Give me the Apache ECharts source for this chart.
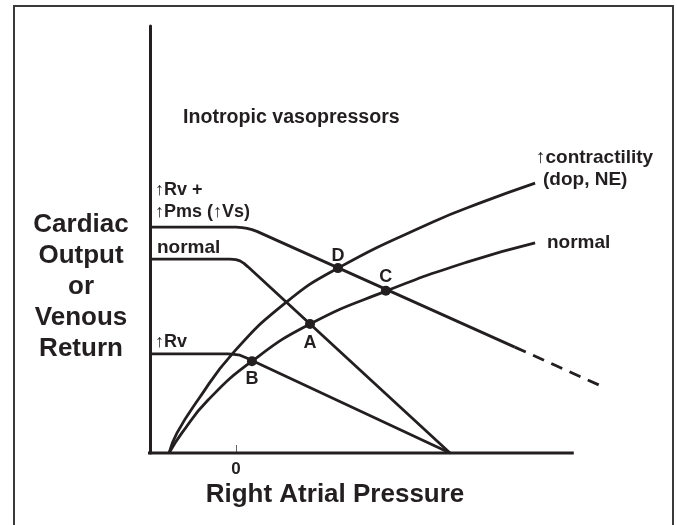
<!DOCTYPE html>
<html>
<head>
<meta charset="utf-8">
<script src="https://cdn.jsdelivr.net/npm/echarts@6/dist/echarts.min.js"></script>
<style>
html,body{margin:0;padding:0;background:#fff;}
#chart{width:677px;height:525px;}
</style>
</head>
<body>
<div id="chart"></div>
<script>
// Cardiac function curves (x = right atrial pressure, y = cardiac output)
const cardiacNormal = [[-2.18,0],[-1.76,0.47],[-0.91,1.24],[0.52,2.15],[2.41,3.02],[4.88,3.79],[7.52,4.47],[9.74,4.92]];
const cardiacContractility = [[-2.18,0],[-1.92,0.47],[-1.24,1.24],[-0.10,2.34],[1.60,3.51],[3.32,4.33],[6.41,5.41],[8.04,5.88],[9.74,6.32]];
// Venous return curves
const vrNormal = [[-2.8,4.54],[-0.20,4.54],[0,4.53],[0.13,4.50],[0.26,4.44],[0.39,4.36],[6.97,0]];
const vrRv = [[-2.8,2.32],[-0.26,2.32],[-0.07,2.31],[0.13,2.29],[0.33,2.23],[6.97,0]];
const vrRvPms = [[-2.8,5.29],[0,5.29],[0.20,5.28],[0.36,5.26],[0.52,5.23],[0.68,5.19],[9.08,2.48]];
const vrRvPmsDashed = [[9.08,2.48],[11.95,1.55]];
// Equilibrium points
const pointNames = ['A','B','C','D'];
const pointValues = [[2.41,3.02],[0.52,2.15],[4.88,3.80],[3.32,4.33]];
// Axis extents (x axis line drawn from xLineStart to xLineEnd)
const xLineStart = -2.87;
const xLineEnd = 11.0;
const xTickValues = [0];

const INK = '#231f20';
const FONT = '"Liberation Sans", Arial, Helvetica, sans-serif';
const chart = echarts.init(document.getElementById('chart'), null, {renderer:'canvas'});

const lineBase = (data, extra) => Object.assign({
  type:'line', data, symbol:'none', silent:true, z:3, clip:false,
  lineStyle:{color:INK, width:2.8}
}, extra || {});

const labelPos = {A:'bottom', B:'bottom', C:'top', D:'top'};
const labelDist = {A:5, B:4, C:0, D:-2};

const txt = (text, x, y, size, align, vAlign, extra) => ({
  type:'text', x, y, z:10, silent:true,
  style:Object.assign({text, fill:INK, font:'bold ' + size + 'px ' + FONT,
    textAlign:align || 'left', textVerticalAlign:vAlign || 'middle'}, extra || {})
});

chart.setOption({
  animation:false,
  backgroundColor:'#fff',
  grid:{left:150, right:72.5, top:26, bottom:72, containLabel:false},
  xAxis:{
    type:'value', min:-2.8, max:12,
    axisLine:{show:false},
    axisTick:{show:true, inside:true, length:8, customValues:xTickValues, lineStyle:{color:'#666', width:1}},
    axisLabel:{show:true, customValues:xTickValues, margin:8, color:INK, fontSize:17, fontWeight:'bold', fontFamily:FONT},
    splitLine:{show:false}
  },
  yAxis:{
    type:'value', min:0, max:10,
    axisLine:{show:true, onZero:false, lineStyle:{color:INK, width:3}},
    axisTick:{show:false}, axisLabel:{show:false}, splitLine:{show:false}
  },
  series:[
    lineBase([[xLineStart,0],[xLineEnd,0]], {lineStyle:{color:INK, width:3}, z:4}),
    lineBase(cardiacNormal, {smooth:0.5}),
    lineBase(cardiacContractility, {smooth:0.5}),
    lineBase(vrNormal),
    lineBase(vrRv),
    lineBase(vrRvPms),
    lineBase(vrRvPmsDashed, {lineStyle:{color:INK, width:2.8, type:[12,8]}}),
    {
      type:'scatter', z:5, silent:true, symbolSize:10,
      itemStyle:{color:INK, opacity:1},
      data:pointValues.map((v,i)=>({name:pointNames[i], value:v,
        label:{show:true, formatter:pointNames[i], position:labelPos[pointNames[i]], distance:labelDist[pointNames[i]],
          color:INK, opacity:1, fontSize:18, fontWeight:'bold', fontFamily:FONT}}))
    }
  ],
  graphic:[
    {type:'rect', shape:{x:14, y:6, width:659, height:540}, style:{fill:'none', stroke:'#3a3a3a', lineWidth:2}, silent:true},
    txt('Cardiac\nOutput\nor\nVenous\nReturn', 81, 287, 26, 'center', 'middle', {lineHeight:31}),
    txt('Right Atrial Pressure', 335, 495, 26, 'center', 'middle'),
    txt('Inotropic vasopressors', 183, 118, 19.6, 'left', 'middle'),
    txt('\u2191Rv +', 155, 190, 18, 'left', 'middle'),
    txt('\u2191Pms (\u2191Vs)', 155, 212, 18, 'left', 'middle'),
    txt('normal', 157, 248, 19, 'left', 'middle'),
    txt('\u2191Rv', 155, 342, 18, 'left', 'middle'),
    txt('\u2191contractility', 536, 158, 19, 'left', 'middle'),
    txt('(dop, NE)', 543, 180, 19, 'left', 'middle'),
    txt('normal', 547, 243, 19, 'left', 'middle')
  ]
});
</script>
</body>
</html>
